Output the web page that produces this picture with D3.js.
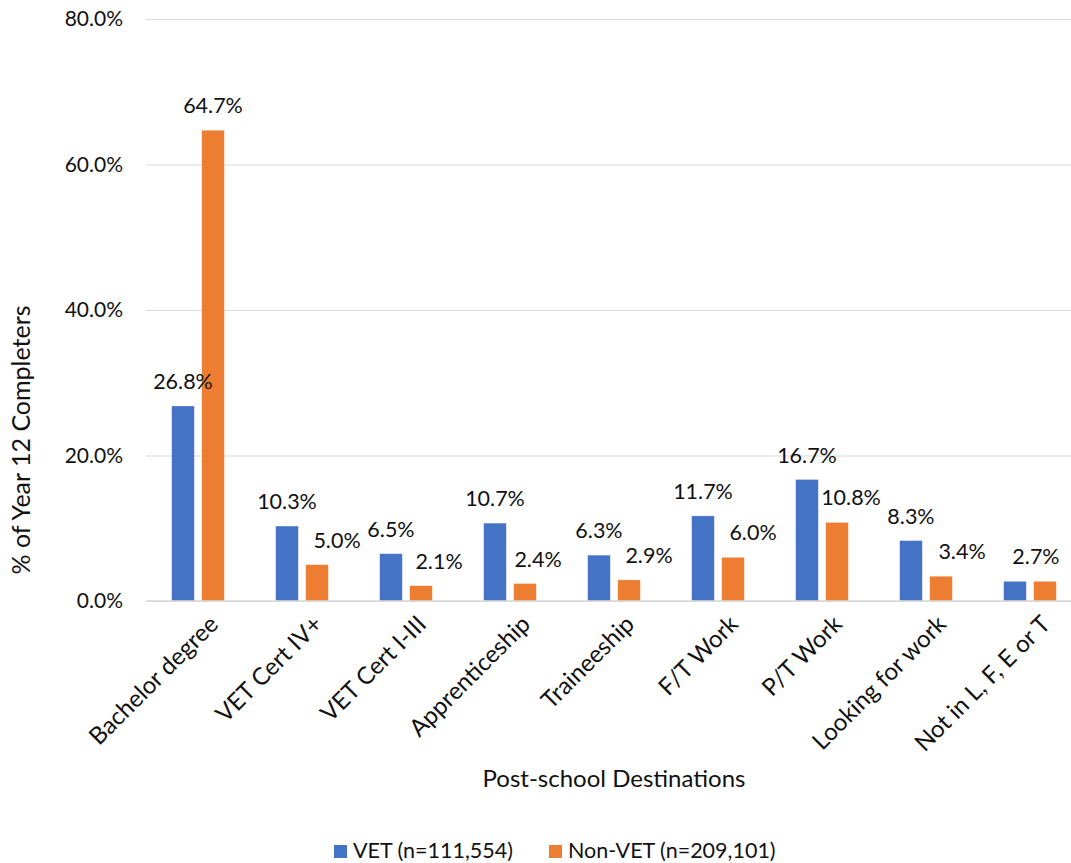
<!DOCTYPE html>
<html>
<head>
<meta charset="utf-8">
<script src="https://cdn.jsdelivr.net/npm/d3@7"></script>
<style>
  html, body { margin: 0; padding: 0; background: #fff; }
  svg { display: block; font-family: Lato, "Open Sans", sans-serif; }
</style>
</head>
<body>
<svg id="chart" width="1071" height="863"></svg>
<script>
// Post-school destinations of Year 12 completers, VET vs non-VET students
const categories = [
  "Bachelor degree", "VET Cert IV+", "VET Cert I-III", "Apprenticeship",
  "Traineeship", "F/T Work", "P/T Work", "Looking for work", "Not in L, F, E or T"
];
const vetValues    = [26.8, 10.3, 6.5, 10.7, 6.3, 11.7, 16.7, 8.3, 2.7];
const nonVetValues = [64.7, 5.0, 2.1, 2.4, 2.9, 6.0, 10.8, 3.4, 2.7];
const seriesNames  = ["VET (n=111,554)", "Non-VET (n=209,101)"];
const yTicks       = [0, 20, 40, 60, 80];

// horizontal nudges for the value labels (px), per series
const labelShift = [
  [0, 0, 0, 0, 0, 0, 0, 0, 21],
  [0, 20, 18, 13, 20, 20, 14, 21, -8]
];

const colors = ["#4472C4", "#ED7D31"];
const series = [vetValues, nonVetValues];

const svg = d3.select("#chart");
const plot = { left: 146, right: 1082, top: 19, bottom: 601 };

const x = d3.scaleBand()
  .domain(categories)
  .range([plot.left, plot.right])
  .paddingInner(0.494)
  .paddingOuter(0.247);

const xs = d3.scaleBand()
  .domain([0, 1])
  .range([0, x.bandwidth()])
  .paddingInner(0.2467)
  .paddingOuter(0);

const y = d3.scaleLinear().domain([0, 80]).range([plot.bottom, plot.top]);

// gridlines + y tick labels
const yAxis = d3.axisLeft(y)
  .tickValues(yTicks)
  .tickSize(-(1071 - plot.left))
  .tickPadding(23)
  .tickFormat(d => d.toFixed(1) + "%");

const gy = svg.append("g")
  .attr("transform", `translate(${plot.left},0)`)
  .call(yAxis);
gy.select(".domain").remove();
gy.selectAll(".tick line").attr("stroke", "#D9D9D9").attr("stroke-width", 1);
gy.selectAll(".tick text")
  .attr("fill", "#111")
  .style("font-size", "21px")
  .style("font-family", "Lato, sans-serif");

// bars
series.forEach((vals, si) => {
  svg.append("g")
    .selectAll("rect")
    .data(vals)
    .join("rect")
    .attr("x", (d, i) => x(categories[i]) + xs(si))
    .attr("width", xs.bandwidth())
    .attr("y", d => y(d))
    .attr("height", d => y(0) - y(d))
    .attr("fill", colors[si])
    .attr("stroke", "rgba(255,255,255,0.35)")
    .attr("stroke-width", 0.75);
});

// category axis line
svg.append("line")
  .attr("x1", plot.left).attr("x2", 1071)
  .attr("y1", y(0)).attr("y2", y(0))
  .attr("stroke", "#D9D9D9").attr("stroke-width", 1.5);

// value labels (a label that lands on another with the same text is drawn once)
const labelData = [];
series.forEach((vals, si) => {
  vals.forEach((v, i) => {
    const lx = x(categories[i]) + xs(si) + xs.bandwidth() / 2 + labelShift[si][i];
    const ly = y(v) - 17;
    const dup = labelData.some(o => o.v === v && Math.abs(o.lx - lx) < 3 && Math.abs(o.ly - ly) < 3);
    if (!dup) labelData.push({ v, lx, ly });
  });
});
svg.append("g")
  .selectAll("text")
  .data(labelData)
  .join("text")
  .attr("x", d => d.lx)
  .attr("y", d => d.ly)
  .attr("text-anchor", "middle")
  .attr("fill", "#111")
  .style("font-size", "21.5px")
  .text(d => d.v.toFixed(1) + "%");

// rotated category labels
svg.append("g")
  .selectAll("text")
  .data(categories)
  .join("text")
  .attr("transform", d => `translate(${x(d) + x.bandwidth() / 2 + 9},${plot.bottom + 12}) rotate(-45)`)
  .attr("text-anchor", "end")
  .attr("dy", "0.75em")
  .attr("fill", "#111")
  .style("font-size", "24px")
  .text(d => d);

// axis titles
svg.append("text")
  .attr("x", (plot.left + plot.right) / 2)
  .attr("y", 787)
  .attr("text-anchor", "middle")
  .attr("fill", "#111")
  .style("font-size", "24px")
  .text("Post-school Destinations");

svg.append("text")
  .attr("transform", `translate(30,440) rotate(-90)`)
  .attr("text-anchor", "middle")
  .attr("fill", "#111")
  .style("font-size", "25px")
  .text("% of Year 12 Completers");

// legend
const legendX = [334, 549];
const legend = svg.append("g");
seriesNames.forEach((name, si) => {
  legend.append("rect")
    .attr("x", legendX[si]).attr("y", 845)
    .attr("width", 13).attr("height", 13)
    .attr("fill", colors[si]);
  legend.append("text")
    .attr("x", legendX[si] + 19).attr("y", 858)
    .attr("fill", "#111")
    .style("font-size", "21.5px")
    .text(name);
});
</script>
</body>
</html>
